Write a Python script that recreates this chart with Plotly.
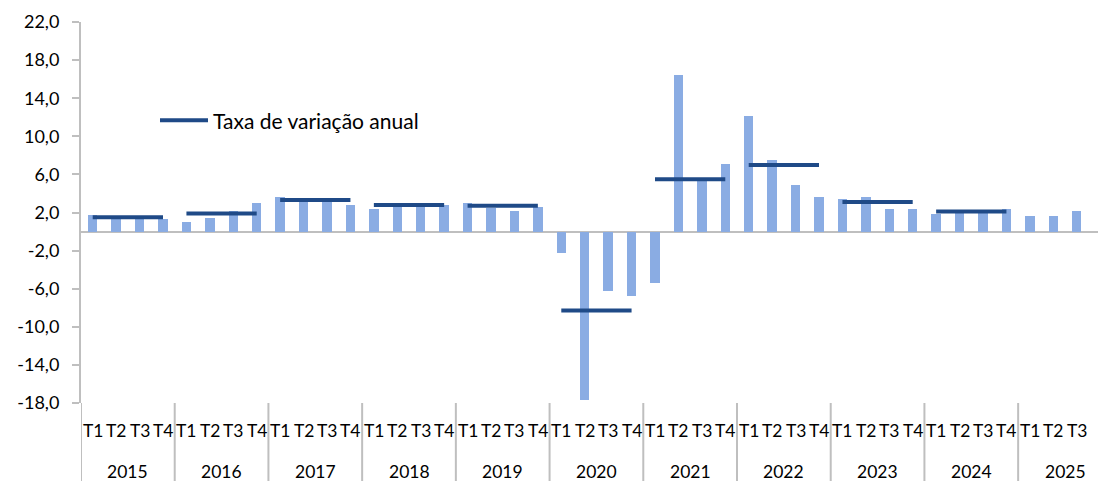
import plotly.graph_objects as go

years = ["2015", "2016", "2017", "2018", "2019", "2020", "2021", "2022", "2023", "2024", "2025"]
quarters = ["T1", "T2", "T3", "T4"]

# Quarterly year-on-year rate (bars), 2015T1 .. 2025T3
quarterly = [
    1.7, 1.5, 1.5, 1.3,
    1.0, 1.4, 2.2, 3.0,
    3.6, 3.4, 3.3, 2.8,
    2.4, 2.9, 2.8, 2.8,
    3.0, 2.5, 2.2, 2.6,
    -2.3, -17.7, -6.2, -6.8,
    -5.4, 16.4, 5.6, 7.1,
    12.1, 7.5, 4.9, 3.6,
    3.4, 3.6, 2.4, 2.4,
    1.8, 2.1, 2.0, 2.4,
    1.6, 1.6, 2.2,
]
# Annual rate (horizontal segments), 2015 .. 2024
annual = [1.5, 1.9, 3.3, 2.8, 2.7, -8.3, 5.5, 7.0, 3.1, 2.1]

y_ticks = [-18, -14, -10, -6, -2, 2, 6, 10, 14, 18, 22]

FONT = "Lato"
BAR_COLOR = "#8AACE3"
LINE_COLOR = "#1F4A87"
AXIS_COLOR = "#BFBFBF"

n_cat = len(years) * 4
xpos = list(range(len(quarterly)))

fig = go.Figure()
fig.add_trace(go.Bar(
    x=xpos, y=quarterly, width=0.4,
    marker=dict(color=BAR_COLOR, line=dict(width=0)),
    showlegend=False, name="Taxa de variação homóloga",
))

lx, ly = [], []
for i, v in enumerate(annual):
    for q in range(4):
        lx.append(i * 4 + q)
        ly.append(v)
    lx.append(None)
    ly.append(None)
fig.add_trace(go.Scatter(
    x=lx, y=ly, mode="lines", connectgaps=False,
    line=dict(color=LINE_COLOR, width=4),
    name="Taxa de variação anual", showlegend=True,
))

# page offset compensation (browser default body margin of 8px)
OFF = 8
W, H = 1106 - OFF, 481 - OFF
ML, MT, MB = 81 - OFF, 22 - OFF, 78
H_PLOT = float(H - MT - MB)   # 381
W_PLOT = float(W - ML)        # 1025

annotations = []
q_y = (403 - 430) / H_PLOT
yr_y = (403 - 471) / H_PLOT
for i in range(n_cat):
    yi, qi = divmod(i, 4)
    if yi == len(years) - 1 and qi == 3:
        continue
    annotations.append(dict(
        x=i, y=q_y, xref="x", yref="paper", text=quarters[qi],
        showarrow=False, xanchor="center", yanchor="middle",
        font=dict(family=FONT, size=17.5, color="#000000"),
    ))
for yi, yr in enumerate(years):
    annotations.append(dict(
        x=yi * 4 + 1.5, y=yr_y, xref="x", yref="paper", text=yr,
        showarrow=False, xanchor="center", yanchor="middle",
        font=dict(family=FONT, size=17.5, color="#000000"),
    ))

shapes = []
for yi in range(len(years)):
    xs = yi * 4 - 0.5
    shapes.append(dict(
        type="line", xref="x", yref="paper", x0=xs, x1=xs,
        y0=-(481 - 403) / H_PLOT, y1=0,
        line=dict(color=AXIS_COLOR, width=2),
    ))

fig.update_layout(
    width=W, height=H,
    margin=dict(l=ML, r=0, t=MT, b=MB, autoexpand=False),
    paper_bgcolor="white", plot_bgcolor="white",
    font=dict(family=FONT, size=17, color="#000000"),
    bargap=0,
    xaxis=dict(
        range=[-0.5, 43.25], showticklabels=False, showgrid=False,
        zeroline=False, showline=False, ticks="", automargin=False,
    ),
    yaxis=dict(
        range=[-18, 22], tickvals=y_ticks,
        ticktext=[f"{v:.1f}".replace(".", ",") for v in y_ticks],
        showgrid=False, showline=True, linecolor=AXIS_COLOR, linewidth=2,
        ticks="outside", ticklen=7, tickcolor=AXIS_COLOR, tickwidth=2,
        zeroline=True, zerolinecolor=AXIS_COLOR, zerolinewidth=2,
        tickfont=dict(family=FONT, size=18, color="#000000"),
        ticklabelstandoff=9, automargin=False,
    ),
    legend=dict(
        x=(155 - 81) / W_PLOT, y=(403 - 120.7) / H_PLOT,
        xanchor="left", yanchor="middle",
        bgcolor="rgba(0,0,0,0)", borderwidth=0,
        font=dict(family=FONT, size=21, color="#000000"),
        itemwidth=48,
    ),
    annotations=annotations,
    shapes=shapes,
)

fig.write_html("out.html")
